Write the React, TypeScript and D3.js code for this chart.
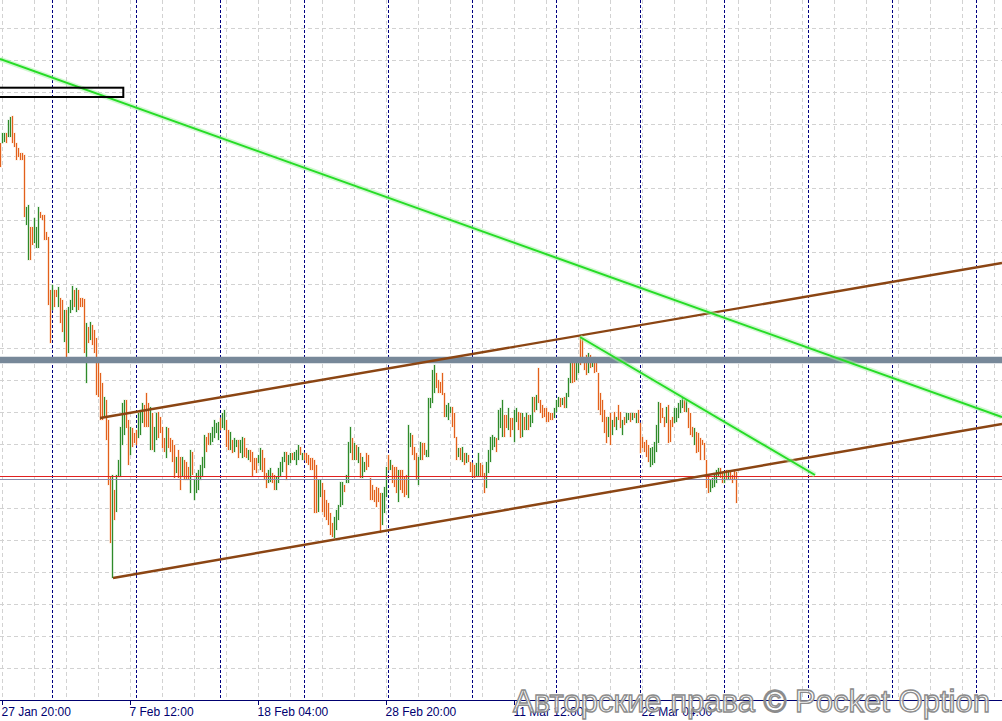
import React from "react";
import * as d3 from "d3";

// ---- data ----
// H4 bars, prices expressed in points above 1.0000 (1 point = 0.0001)
const BAR_START = "2021-01-27T16:00:00Z";
const BAR_HOURS = 4;
const POINT = 0.0001;

const HIGH_PTS = [
  1077, 1087, 1087, 1087, 1100, 1103, 1104, 1087, 1077, 1072,
  1067, 1067, 1065, 1013, 1015, 993, 993, 1002, 993, 1013,
  1008, 1005, 1005, 988, 983, 930, 935, 930, 930, 933,
  922, 920, 910, 910, 913, 920, 934, 930, 932, 930,
  922, 922, 921, 897, 893, 898, 895, 890, 882, 857,
  847, 837, 823, 820, 800, 743, 745, 730, 745, 760,
  793, 817, 820, 820, 800, 793, 792, 787, 790, 807,
  810, 817, 815, 827, 817, 813, 807, 793, 807, 808,
  803, 793, 782, 793, 792, 782, 780, 775, 763, 770,
  763, 763, 760, 758, 753, 770, 768, 740, 747, 750,
  755, 763, 785, 783, 787, 787, 793, 800, 797, 798,
  802, 807, 810, 800, 790, 788, 780, 782, 780, 780,
  780, 783, 782, 772, 770, 770, 768, 762, 762, 765,
  772, 770, 762, 747, 750, 752, 747, 745, 743, 752,
  758, 763, 768, 768, 765, 767, 767, 768, 770, 775,
  773, 767, 767, 767, 765, 762, 762, 760, 755, 740,
  740, 737, 730, 720, 717, 707, 697, 703, 710, 715,
  738, 738, 735, 745, 778, 793, 782, 777, 775, 773,
  767, 763, 758, 767, 765, 742, 735, 730, 733, 732,
  727, 727, 733, 753, 765, 760, 755, 753, 753, 750,
  750, 750, 743, 745, 795, 787, 785, 773, 767, 763,
  778, 777, 777, 770, 822, 822, 850, 855, 847, 840,
  838, 847, 827, 815, 817, 813, 813, 807, 783, 772,
  772, 773, 767, 767, 765, 758, 757, 755, 757, 767,
  757, 755, 747, 758, 770, 783, 785, 783, 782, 810,
  812, 820, 805, 805, 812, 802, 802, 810, 812, 808,
  807, 807, 803, 807, 805, 805, 823, 823, 825, 852,
  820, 815, 812, 812, 808, 807, 807, 812, 820, 823,
  822, 822, 823, 827, 842, 862, 857, 857, 862, 862,
  883, 882, 862, 865, 867, 865, 862, 863, 858, 847,
  827, 820, 810, 803, 803, 807, 800, 808, 803, 815,
  808, 800, 803, 807, 807, 807, 807, 807, 807, 810,
  797, 783, 778, 780, 775, 772, 773, 778, 795, 818,
  817, 812, 803, 813, 815, 800, 803, 812, 812, 817,
  820, 822, 820, 820, 812, 807, 793, 792, 788, 787,
  782, 780, 777, 760, 745, 740, 742, 747, 750, 752,
  752, 748, 747, 750, 750, 748, 745, 750, 748,
];

const LOW_PTS = [
  1053, 1077, 1078, 1077, 1083, 1083, 1077, 1073, 1060, 1063,
  1060, 1060, 1003, 995, 960, 960, 975, 977, 972, 972,
  1002, 1000, 980, 980, 915, 877, 910, 913, 923, 913,
  897, 888, 878, 862, 867, 907, 910, 913, 908, 910,
  913, 913, 867, 837, 877, 880, 875, 867, 825, 823,
  800, 800, 802, 780, 735, 677, 642, 700, 708, 743,
  743, 775, 785, 792, 755, 765, 773, 777, 775, 782,
  785, 797, 793, 793, 793, 770, 770, 768, 780, 782,
  787, 772, 768, 762, 772, 768, 758, 742, 747, 742,
  730, 743, 740, 740, 740, 727, 745, 720, 727, 730,
  740, 743, 752, 768, 775, 775, 778, 782, 787, 780,
  790, 792, 790, 773, 770, 770, 767, 768, 773, 762,
  767, 762, 763, 762, 760, 758, 743, 750, 747, 757,
  750, 748, 740, 732, 737, 738, 737, 730, 730, 737,
  743, 748, 758, 740, 755, 757, 760, 760, 755, 760,
  765, 760, 760, 757, 755, 750, 750, 707, 707, 708,
  723, 708, 703, 700, 695, 685, 683, 682, 690, 700,
  713, 715, 728, 737, 737, 767, 760, 760, 760, 757,
  742, 742, 748, 750, 753, 720, 720, 718, 713, 718,
  687, 695, 707, 723, 750, 750, 737, 733, 727, 718,
  730, 727, 723, 725, 722, 773, 765, 760, 740, 735,
  760, 760, 765, 763, 763, 812, 817, 827, 832, 827,
  827, 825, 803, 803, 800, 807, 793, 782, 760, 763,
  760, 758, 755, 757, 758, 748, 743, 742, 743, 743,
  743, 743, 727, 732, 747, 758, 770, 773, 768, 780,
  792, 783, 783, 792, 790, 783, 790, 778, 798, 790,
  782, 783, 790, 790, 790, 793, 797, 808, 810, 817,
  807, 802, 803, 798, 798, 800, 800, 802, 808, 813,
  813, 815, 812, 812, 823, 837, 837, 838, 840, 847,
  855, 860, 850, 845, 847, 852, 853, 847, 848, 810,
  805, 798, 787, 777, 783, 775, 785, 793, 790, 800,
  792, 785, 795, 797, 800, 798, 800, 802, 797, 797,
  767, 772, 768, 763, 758, 753, 755, 757, 768, 777,
  797, 802, 793, 797, 777, 778, 793, 797, 798, 802,
  807, 812, 808, 808, 792, 785, 783, 775, 767, 768,
  760, 775, 760, 732, 727, 728, 732, 733, 737, 743,
  742, 737, 737, 740, 740, 740, 737, 740, 717,
];

// u = bullish bar, d = bearish bar (one row per 10 bars)
const BAR_DIR_ROWS = [
  "d u u d u u d d d d",
  "d d d u u d d u u u",
  "d d d d d d u d d u",
  "d d u d u u u d u d",
  "d d d u d u d d d d",
  "d d u d d d u d u u",
  "u u u d d u d d d u",
  "u u d d d u d u u d",
  "d d d u d d d d u d",
  "d u d d d u d u u u",
  "u u u d d u u u u u",
  "d u u d d u d u u d",
  "u u d d u d d d d u",
  "u d d d u u d d u u",
  "u u u d u u d u u u",
  "d u d d d d d d d u",
  "u d d d d d d u u u",
  "u u d u u u d u d u",
  "d u u d d d d d d d",
  "d u u u d u d d d u",
  "d d d d u u d d d u",
  "u d d u u u u u d d",
  "d d d u u u d d d u",
  "d u d u d d d d u u",
  "d d d u u u u u d u",
  "u u d d u d d u u d",
  "d u d u d u u d u d",
  "d d d d d d d u u u",
  "d u d u u u d d u u",
  "d d d d u d u d d d",
  "d d d d u d u d u d",
  "d u d u u d u d u d",
  "d d d d d u u u u u",
  "d d d u d d d u u u",
  "u u d u d d d u d d",
  "d d d d d u u u u u",
  "d d u d u d d d d",
];
const BAR_DIR = BAR_DIR_ROWS.join("").replace(/ /g, "");

const TICK_TIMES = [
  "2021-01-27T20:00:00Z",
  "2021-02-07T12:00:00Z",
  "2021-02-18T04:00:00Z",
  "2021-02-28T20:00:00Z",
  "2021-03-11T12:00:00Z",
  "2021-03-22T04:00:00Z",
];

// trend lines: bar index / price endpoints
const GREEN_LINES = [
  { k1: -0.25, p1: 1.1161, k2: 500.75, p2: 1.0803 },
  { k1: 289.75, p1: 1.0883, k2: 407.25, p2: 1.0745 },
];
const BROWN_LINES = [
  { k1: 49.75, p1: 1.0802, k2: 500.75, p2: 1.0957 },
  { k1: 56.25, p1: 1.0642, k2: 500.75, p2: 1.0796 },
];
const RESISTANCE_LEVEL = 1.086;
const RED_LEVEL = 1.0744;
const GRAY_LEVEL = 1.0741;
const BOX = { k1: -6, k2: 61.4, p1: 1.11323, p2: 1.1123 };

const PRICE_MIN = 1.052;
const PRICE_MAX = 1.122;
const GRID_PRICE_TOP = 1.1192;
const GRID_PRICE_STEP = 0.0032;
const GRID_BAR_STEP = 16;

const WATERMARK = "Авторские права © Pocket Option";

export default function App() {
  const W = 1002;
  const H = 721;
  const AXIS_Y = 700;
  const t0 = Date.parse(BAR_START);
  const barTime = (k: number) => new Date(t0 + k * BAR_HOURS * 3600e3);
  const x = d3.scaleUtc().domain([barTime(0), barTime(500)]).range([0.5, 1000.5]);
  const y = d3.scaleLinear().domain([PRICE_MIN, PRICE_MAX]).range([AXIS_Y, 0]);
  const xk = (k: number) => x(barTime(k));
  const fmt = d3.utcFormat("%-d %b %H:%M");

  const vGrid: number[] = [];
  for (let k = 1; xk(k) < W; k += GRID_BAR_STEP) vGrid.push(xk(k));
  const hGrid: number[] = [];
  for (let i = 0; ; i++) {
    const p = GRID_PRICE_TOP - i * GRID_PRICE_STEP;
    const yy = Math.round(y(p));
    if (yy >= AXIS_Y) break;
    hGrid.push(yy + 0.5);
  }
  const weeks = d3.utcMonday.range(barTime(0), barTime(501)).map((d) => x(d));

  const bars = HIGH_PTS.map((h, i) => ({
    x: xk(i),
    hi: y(1 + h * POINT),
    lo: y(1 + LOW_PTS[i] * POINT),
    up: BAR_DIR[i] === "u",
  }));

  const lineY = (p: number) => Math.round(y(p)) + 0.5;

  return (
    <svg
      width={W}
      height={H}
      style={{ position: "fixed", left: 0, top: 0, background: "#fff" }}
      fontFamily="'Liberation Sans', Arial, sans-serif"
    >
      <defs>
        <clipPath id="plot">
          <rect x={0} y={0} width={W} height={AXIS_Y} />
        </clipPath>
      </defs>
      <rect x={0} y={0} width={W} height={H} fill="#fff" />
      <g clipPath="url(#plot)">
        {vGrid.map((gx, i) => (
          <line key={"vg" + i} x1={gx} x2={gx} y1={0} y2={AXIS_Y} stroke="#d2d2d2" strokeDasharray="4 3" />
        ))}
        {hGrid.map((gy, i) => (
          <line key={"hg" + i} x1={0} x2={W} y1={gy} y2={gy} stroke="#d2d2d2" strokeDasharray="4 3" />
        ))}
        {weeks.map((wx, i) => (
          <line key={"wk" + i} x1={wx} x2={wx} y1={0} y2={AXIS_Y} stroke="#000080" strokeDasharray="3 2" />
        ))}
        {bars.map((b, i) => (
          <line
            key={"bh" + i}
            x1={b.x}
            x2={b.x}
            y1={b.hi - 0.5}
            y2={b.lo + 0.5}
            stroke={b.up ? "#cfe8cf" : "#fde2cc"}
            strokeWidth={3}
            opacity={0.6}
          />
        ))}
        {bars.map((b, i) => (
          <line
            key={"b" + i}
            x1={b.x}
            x2={b.x}
            y1={b.hi}
            y2={b.lo}
            stroke={b.up ? "#2f8a2a" : "#e2601c"}
            strokeWidth={1.1}
          />
        ))}
        <line x1={0} x2={W} y1={y(RESISTANCE_LEVEL)} y2={y(RESISTANCE_LEVEL)} stroke="#778899" strokeWidth={6.5} />
        <line x1={0} x2={W} y1={lineY(RED_LEVEL)} y2={lineY(RED_LEVEL)} stroke="#e02020" strokeWidth={1} />
        <line x1={0} x2={W} y1={lineY(GRAY_LEVEL)} y2={lineY(GRAY_LEVEL)} stroke="#8a8aa8" strokeWidth={1} />
        {BROWN_LINES.map((l, i) => (
          <line key={"br" + i} x1={xk(l.k1)} y1={y(l.p1)} x2={xk(l.k2)} y2={y(l.p2)} stroke="#8b4513" strokeWidth={2.4} />
        ))}
        {GREEN_LINES.map((l, i) => (
          <g key={"gr" + i}>
            <line x1={xk(l.k1)} y1={y(l.p1)} x2={xk(l.k2)} y2={y(l.p2)} stroke="#a6f2a6" strokeWidth={5} opacity={0.5} />
            <line x1={xk(l.k1)} y1={y(l.p1)} x2={xk(l.k2)} y2={y(l.p2)} stroke="#26dc26" strokeWidth={2} />
          </g>
        ))}
        <rect
          x={xk(BOX.k1)}
          y={y(BOX.p1)}
          width={xk(BOX.k2) - xk(BOX.k1)}
          height={y(BOX.p2) - y(BOX.p1)}
          fill="none"
          stroke="#000"
          strokeWidth={2}
        />
      </g>
      <line x1={0} x2={W} y1={AXIS_Y + 0.5} y2={AXIS_Y + 0.5} stroke="#000070" strokeWidth={1} />
      {TICK_TIMES.map((t, i) => {
        const d = new Date(t);
        const tx = x(d);
        return (
          <g key={"tk" + i}>
            <line x1={tx} x2={tx} y1={AXIS_Y} y2={AXIS_Y + 5} stroke="#000070" />
            <text x={tx - 1} y={716} fontSize={12} fill="#000070">
              {fmt(d)}
            </text>
          </g>
        );
      })}
      <text
        x={513}
        y={712}
        fontSize={31}
        fill="#ffffff"
        fillOpacity={0.75}
        stroke="#8c8c8c"
        strokeWidth={1.4}
        textLength={477}
        lengthAdjust="spacingAndGlyphs"
      >
        {WATERMARK}
      </text>
    </svg>
  );
}
